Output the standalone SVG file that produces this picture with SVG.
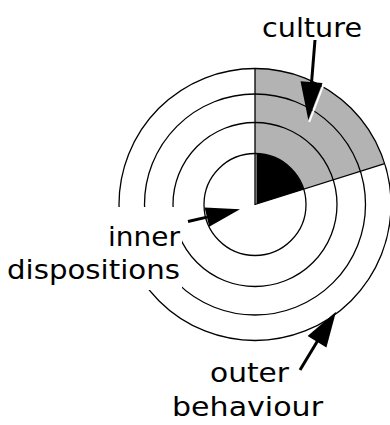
<svg xmlns="http://www.w3.org/2000/svg" width="390" height="425" viewBox="0 0 390 425">
<style>
.ring{fill:none;stroke:#000;stroke-width:1.3}
.edge{stroke:#000;stroke-width:1.3;fill:none}
.lbl{font-family:"DejaVu Sans","Liberation Sans",sans-serif;font-size:27px;fill:#000}
.shaft{stroke:#000;stroke-width:3;fill:none;stroke-linecap:butt}
.head{fill:#000}
.halo{stroke:#fff;stroke-width:2;fill:none}
</style>
<rect width="390" height="425" fill="#fff"/>
<g id="target">
  <path d="M255,204.5 L255,68.5 A136,136 0 0 1 384.7,163.6 Z" fill="#b3b3b3"/>
  <path d="M256.6,204 L256.6,153.5 A51,51 0 0 1 303.6,189.2 Z" fill="#000"/>
  <circle class="ring" cx="255" cy="204.5" r="51"/>
  <circle class="ring" cx="255" cy="204.5" r="82"/>
  <circle class="ring" cx="255" cy="204.5" r="110.5"/>
  <circle class="ring" cx="255" cy="204.5" r="136"/>
  <path class="edge" d="M255,68.5 V205"/>
  <path class="edge" d="M255,204.5 L384.7,163.6"/>
</g>
<rect x="0" y="207" width="182" height="83" fill="#fff"/>
<g id="label-culture">
  <text class="lbl" x="312" y="37" text-anchor="middle" textLength="100" lengthAdjust="spacingAndGlyphs">culture</text>
</g>
<g id="label-inner">
  <text class="lbl" x="180" y="246" text-anchor="end" textLength="72" lengthAdjust="spacingAndGlyphs">inner</text>
  <text class="lbl" x="180" y="279" text-anchor="end" textLength="173" lengthAdjust="spacingAndGlyphs">dispositions</text>
</g>
<g id="label-outer">
  <text class="lbl" x="249.5" y="382" text-anchor="middle" textLength="79" lengthAdjust="spacingAndGlyphs">outer</text>
  <text class="lbl" x="247.5" y="416" text-anchor="middle" textLength="151" lengthAdjust="spacingAndGlyphs">behaviour</text>
</g>
<g id="connectors">
  <line class="shaft" x1="315" y1="40" x2="311.5" y2="83"/>
  <line class="halo" x1="324" y1="83.5" x2="309.2" y2="122"/>
  <polygon class="head" points="300.5,81.2 322.5,83 308.3,120"/>
  <line class="shaft" x1="188" y1="221.5" x2="207" y2="217.1"/>
  <polygon class="head" points="204.6,207.4 209.2,226.8 240,209.3"/>
  <line class="shaft" x1="300" y1="370" x2="317.5" y2="341"/>
  <polygon class="head" points="307.6,335.9 326.4,347.5 336,311.7"/>
</g>
</svg>
